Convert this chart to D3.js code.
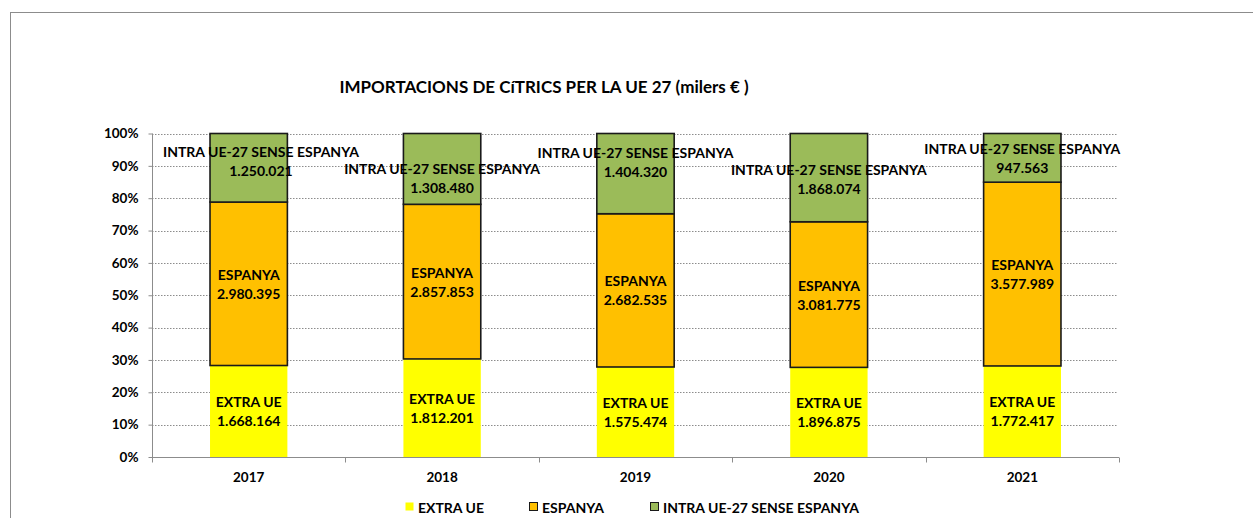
<!DOCTYPE html>
<html>
<head>
<meta charset="utf-8">
<script src="https://cdn.jsdelivr.net/npm/d3@7"></script>
<style>
  body { margin: 0; background: #fff; }
  text { font-family: Lato, "Open Sans", sans-serif; font-weight: bold; fill: #000; }
</style>
</head>
<body>
<script>
const years = ['2017', '2018', '2019', '2020', '2021'];
const extraUE = [1668164, 1812201, 1575474, 1896875, 1772417];
const espanya = [2980395, 2857853, 2682535, 3081775, 3577989];
const intraUE = [1250021, 1308480, 1404320, 1868074, 947563];
const seriesNames = ['EXTRA UE', 'ESPANYA', 'INTRA UE-27 SENSE ESPANYA'];
const yTicks = [0, 0.1, 0.2, 0.3, 0.4, 0.5, 0.6, 0.7, 0.8, 0.9, 1];

const width = 1253;
const height = 518;
const colors = ['#ffff00', '#ffc000', '#9bbb59'];

const svg = d3.select('body')
    .append('svg')
    .attr('width', width)
    .attr('height', height);

// chart frame
svg.append('rect')
    .attr('x', 10.5).attr('y', 12.5)
    .attr('width', 1300).attr('height', 600)
    .attr('fill', 'none')
    .attr('stroke', '#8c8c8c');

const table = years.map((y, i) => ({year: y, 'EXTRA UE': extraUE[i], 'ESPANYA': espanya[i], 'INTRA UE-27 SENSE ESPANYA': intraUE[i]}));
const stacked = d3.stack().keys(seriesNames).offset(d3.stackOffsetExpand)(table);

const x = d3.scaleBand()
    .domain(years)
    .range([152, 1119])
    .paddingInner(0.6)
    .paddingOuter(0.3);

const y = d3.scaleLinear()
    .domain([0, 1])
    .range([457, 133.5]);

// grid
svg.append('g')
    .selectAll('line')
    .data(yTicks.slice(1))
    .enter()
    .append('line')
    .attr('x1', 152).attr('x2', 1117)
    .attr('y1', d => Math.round(y(d)) + 0.5)
    .attr('y2', d => Math.round(y(d)) + 0.5)
    .attr('stroke', '#8c8c8c')
    .attr('stroke-dasharray', '1.5,1.5');

// y axis
const yAxis = d3.axisLeft(y)
    .tickValues(yTicks)
    .tickFormat(d3.format('.0%'))
    .tickSize(4)
    .tickPadding(10);

svg.append('g')
    .attr('transform', 'translate(152.5, 0)')
    .call(yAxis)
    .call(g => g.selectAll('line, path').attr('stroke', '#8c8c8c'))
    .call(g => g.select('.domain').attr('d', 'M0,' + y(1) + 'V' + y(0)))
    .call(g => g.selectAll('text').style('font-size', '13.5px').style('font-weight', 'bold').attr('font-family', null));

// x axis
const xAxis = d3.axisBottom(x).tickSize(0).tickPadding(15);
const gx = svg.append('g')
    .attr('transform', 'translate(0, 457.5)')
    .call(xAxis)
    .call(g => g.select('.domain').attr('stroke', '#8c8c8c').attr('d', 'M152,0H1119'))
    .call(g => g.selectAll('text').style('font-size', '13.5px').style('font-weight', 'bold').attr('font-family', null));

const step = x.step();
gx.selectAll('.sep')
    .data(years.concat(['end']))
    .enter()
    .append('line')
    .attr('x1', (d, i) => Math.round(152 + i * step) + 0.5)
    .attr('x2', (d, i) => Math.round(152 + i * step) + 0.5)
    .attr('y1', 0).attr('y2', 5)
    .attr('stroke', '#8c8c8c');

// bars
const layers = svg.selectAll('.layer')
    .data(stacked)
    .enter()
    .append('g')
    .attr('fill', (d, i) => colors[i]);

layers.selectAll('rect')
    .data((d, i) => d.map(v => ({v: v, k: i})))
    .enter()
    .append('rect')
    .attr('x', d => x(d.v.data.year))
    .attr('y', d => y(d.v[1]))
    .attr('width', x.bandwidth())
    .attr('height', d => y(d.v[0]) - y(d.v[1]))
    .attr('stroke', d => d.k === 0 ? 'none' : '#1a1a1a')
    .attr('stroke-width', 1.6);

// labels (kept inside the plot area like Excel does)
const fmt = v => d3.format(',')(v).replace(/,/g, '.');
const intraShift = [-7, 9, -12, 1, 0];
stacked.forEach((layer, k) => {
    layer.forEach((v, i) => {
        let cx = x(v.data.year) + x.bandwidth() / 2;
        let cy = (y(v[0]) + y(v[1])) / 2;
        if (k === 2) cy += intraShift[i];
        const t = svg.append('text')
            .attr('text-anchor', 'middle')
            .style('font-size', '14px');
        const t1 = t.append('tspan').attr('y', cy - 4).text(seriesNames[k]);
        const t2 = t.append('tspan').attr('y', cy + 15).text(fmt(v.data[seriesNames[k]]));
        const w = t1.node().getComputedTextLength();
        if (cx - w / 2 < 163) cx = 163 + w / 2;
        t1.attr('x', cx);
        t2.attr('x', cx);
    });
});

// title
svg.append('text')
    .attr('x', 544).attr('y', 93)
    .attr('text-anchor', 'middle')
    .style('font-size', '17px')
    .text('IMPORTACIONS DE CíTRICS PER LA UE 27 (milers € )');

// legend
const legendX = [405, 529, 650];
const legend = svg.selectAll('.legend')
    .data(seriesNames)
    .enter()
    .append('g')
    .attr('transform', (d, i) => 'translate(' + legendX[i] + ', 508)');

legend.append('rect')
    .attr('x', 0.5).attr('y', -5.5)
    .attr('width', 8).attr('height', 8)
    .attr('fill', (d, i) => colors[i])
    .attr('stroke', (d, i) => i === 0 ? 'none' : '#1a1a1a');

legend.append('text')
    .attr('x', 13).attr('y', 5)
    .style('font-size', '14px')
    .text(d => d);
</script>
</body>
</html>
